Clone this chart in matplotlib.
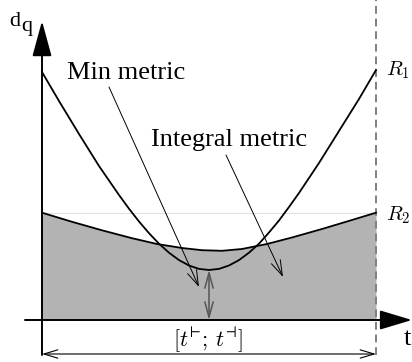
import matplotlib.pyplot as plt

plt.rcParams['font.family'] = 'Liberation Serif'
plt.rcParams['mathtext.fontset'] = 'cm'

# distance curves, t measured from the d axis
t_r1 = [0, 17, 37, 57, 77, 87, 97, 107, 117, 127, 137, 147, 157, 167,
        177, 187, 197, 207, 217, 227, 237, 247, 257, 277, 297, 317, 334]
r1 = [248, 219, 186, 154, 125, 111.3, 98.5, 86.8, 76.3, 67.3, 59.9, 54.5, 51.1, 50,
      51.1, 54.5, 59.9, 67.3, 76.3, 87.5, 99.5, 113, 127, 157, 189, 221, 250]

t_r2 = [0, 30, 60, 90, 115, 140, 160, 180, 200, 225, 250, 280, 310, 334]
r2 = [107.3, 98.2, 89.7, 81.8, 76, 72, 69.8, 69.2, 71, 76, 82.5, 91, 100, 107.3]

t_end = 334
labels = ['Min metric', 'Integral metric']

fig = plt.figure(figsize=(4.12, 3.62), dpi=100)
ax = fig.add_axes([0, 0, 1, 1])
ax.set_xlim(-42, 370)
ax.set_ylim(-42, 320)
ax.axis('off')

# shaded area under R2 and its reference level
ax.fill_between(t_r2, r2, 0, color='#b3b3b3', lw=0, zorder=1)
ax.hlines(r2[-1], t_r2[0], t_r2[-1], color='#e2e2e2', lw=0.8, zorder=1)

ax.plot(t_r2, r2, color='black', lw=1.3, zorder=3)
ax.plot(t_r1, r1, color='black', lw=1.3, zorder=3)

# end of the interval
ax.vlines(t_end, -35, 330, color='#808080', lw=1.4, linestyles=(0, (4, 2.5)), zorder=2)

# axes with arrow heads
ax.annotate('', xy=(0, 299), xytext=(0, -35),
            arrowprops=dict(arrowstyle='-|>,head_length=1.1,head_width=0.3', mutation_scale=20,
                            color='black', lw=1.4, shrinkA=0, shrinkB=0), zorder=4)
ax.annotate('', xy=(370, 0), xytext=(-17, 0),
            arrowprops=dict(arrowstyle='-|>,head_length=1.0,head_width=0.3', mutation_scale=20,
                            color='black', lw=1.4, shrinkA=0, shrinkB=0), zorder=4)

# interval span
ax.annotate('', xy=(0, -34), xytext=(t_end, -34),
            arrowprops=dict(arrowstyle='<->,head_length=1.0,head_width=0.3', mutation_scale=10,
                            color='black', lw=0.8, shrinkA=0, shrinkB=0))

# minimum distance of R1 to the t axis
i_min = r1.index(min(r1))
ax.annotate('', xy=(t_r1[i_min], min(r1)), xytext=(t_r1[i_min], 0),
            arrowprops=dict(arrowstyle='<->,head_length=1.1,head_width=0.3', mutation_scale=10,
                            color='#555555', lw=1.1, shrinkA=0, shrinkB=0), zorder=4)

# metric labels with pointers
ax.annotate('', xy=(157, 33), xytext=(67, 233),
            arrowprops=dict(arrowstyle='->,head_length=1.1,head_width=0.35', mutation_scale=10,
                            color='black', lw=0.7, shrinkA=0, shrinkB=0), zorder=5)
ax.annotate('', xy=(241, 43), xytext=(184, 165),
            arrowprops=dict(arrowstyle='->,head_length=1.1,head_width=0.35', mutation_scale=10,
                            color='black', lw=0.7, shrinkA=0, shrinkB=0), zorder=5)
ax.text(25, 241, labels[0], fontsize=19, ha='left', va='baseline')
ax.text(109, 174, labels[1], fontsize=19, ha='left', va='baseline')

ax.text(344, 245, r'$R_1$', fontsize=15, ha='left', va='baseline')
ax.text(344, 100, r'$R_2$', fontsize=15, ha='left', va='baseline')
ax.text(166, -20, '$[t^{⊢};\\,t^{⊣}]$', fontsize=16, ha='center', va='center')

ax.text(365, -25, 't', fontsize=19, ha='center', va='baseline')
ax.text(-33, 294, 'd', fontsize=16, ha='left', va='baseline')
ax.text(-21, 289.5, 'q', fontsize=16, ha='left', va='baseline')

fig.savefig('out.png', dpi=100)
